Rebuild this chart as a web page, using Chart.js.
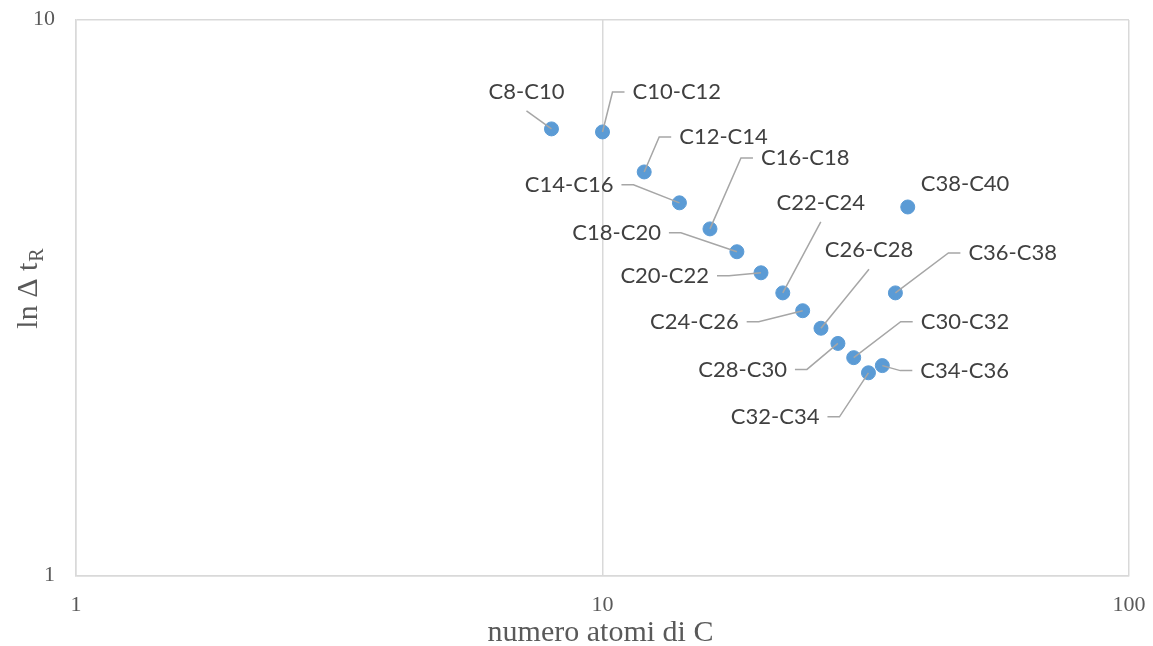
<!DOCTYPE html>
<html>
<head>
<meta charset="utf-8">
<script src="https://cdn.jsdelivr.net/npm/chart.js@4/dist/chart.umd.min.js"></script>
<style>
  body { margin: 0; background: #fff; }
  #wrap { width: 1153px; height: 646px; }
</style>
</head>
<body>
<div id="wrap"><canvas id="scatter-chart"></canvas></div>
<script>
// data
const pairLabels = ['C8-C10', 'C10-C12', 'C12-C14', 'C14-C16', 'C16-C18', 'C18-C20', 'C20-C22', 'C22-C24',
                    'C24-C26', 'C26-C28', 'C28-C30', 'C30-C32', 'C32-C34', 'C34-C36', 'C36-C38', 'C38-C40'];
const atomCounts = [8, 10, 12, 14, 16, 18, 20, 22, 24, 26, 28, 30, 32, 34, 36, 38];
const lnDeltaT = [6.37, 6.29, 5.33, 4.69, 4.21, 3.83, 3.51, 3.23, 3.00, 2.79, 2.62, 2.47, 2.32, 2.39, 3.23, 4.61];
const xTicks = [1, 10, 100];
const yTicks = [1, 10];

// where each label sits relative to its point: [dx, dy, side]
const labelPlace = [
    [-25, -37, 'above'], [30, -40, 'right'], [35, -35, 'right'], [-66, -18, 'left'],
    [51, -71, 'right'], [-76, -19, 'left'], [-52, 3, 'left'], [38, -90, 'above'],
    [-64, 11, 'left'], [48, -78, 'above'], [-51, 26, 'left'], [67, -36, 'right'],
    [-49, 44, 'left'], [38, 5, 'right'], [73, -40, 'right'], [13, -23, 'none']
];

const serif = '"Liberation Serif", "Times New Roman", serif';
const gridColor = '#d9d9d9';

const labelPlugin = {
    id: 'pointLabels',
    afterDatasetsDraw(chart) {
        const ctx = chart.ctx;
        const pts = chart.getDatasetMeta(0).data;
        ctx.save();
        ctx.font = '22px Lato, "Noto Sans", sans-serif';
        ctx.fillStyle = '#404040';
        ctx.strokeStyle = '#a6a6a6';
        ctx.lineWidth = 1.5;
        ctx.textBaseline = 'middle';
        pts.forEach((p, i) => {
            const [dx, dy, side] = labelPlace[i];
            const tx = p.x + dx, ty = p.y + dy;
            ctx.beginPath();
            if (side === 'above') {
                ctx.moveTo(tx, ty + 19);
                ctx.lineTo(p.x, p.y);
                ctx.textAlign = 'center';
            } else if (side === 'right') {
                ctx.moveTo(tx - 8, ty);
                ctx.lineTo(tx - 20, ty);
                ctx.lineTo(p.x, p.y);
                ctx.textAlign = 'left';
            } else if (side === 'left') {
                ctx.moveTo(tx + 8, ty);
                ctx.lineTo(tx + 20, ty);
                ctx.lineTo(p.x, p.y);
                ctx.textAlign = 'right';
            } else {
                ctx.textAlign = 'left';
            }
            if (side !== 'none') ctx.stroke();
            ctx.fillText(pairLabels[i], tx, ty);
        });
        ctx.restore();
    },
    afterDraw(chart) {
        const ctx = chart.ctx;
        const area = chart.chartArea;
        const xs = chart.scales.x, ys = chart.scales.y;
        ctx.save();
        ctx.fillStyle = '#595959';
        // tick labels
        ctx.font = '22px ' + serif;
        ctx.textBaseline = 'middle';
        ctx.textAlign = 'center';
        xTicks.forEach(v => ctx.fillText(String(v), xs.getPixelForValue(v), area.bottom + 29));
        ctx.textAlign = 'right';
        yTicks.forEach(v => ctx.fillText(String(v), area.left - 21, ys.getPixelForValue(v) - 1));
        // x title
        ctx.font = '30px ' + serif;
        ctx.textAlign = 'center';
        ctx.textBaseline = 'alphabetic';
        ctx.fillText('numero atomi di C', (area.left + area.right) / 2 - 2, area.bottom + 65);
        // y title with subscript R
        const main = 'ln \u0394 t';
        const wMain = ctx.measureText(main).width;
        ctx.font = '20px ' + serif;
        const wSub = ctx.measureText('R').width;
        ctx.translate(37, (area.top + area.bottom) / 2 - 9);
        ctx.rotate(-Math.PI / 2);
        ctx.textAlign = 'left';
        const start = -(wMain + wSub) / 2;
        ctx.font = '30px ' + serif;
        ctx.fillText(main, start, 0);
        ctx.font = '20px ' + serif;
        ctx.fillText('R', start + wMain + 1, 6);
        ctx.restore();
    }
};

new Chart(document.querySelector('#scatter-chart').getContext('2d'), {
    type: 'scatter',
    data: {
        datasets: [{
            data: atomCounts.map((n, i) => ({ x: n, y: lnDeltaT[i] })),
            backgroundColor: '#5b9bd5',
            borderColor: '#5b9bd5',
            borderWidth: 1,
            pointRadius: 7,
            pointHoverRadius: 7
        }]
    },
    options: {
        responsive: true,
        maintainAspectRatio: false,
        animation: false,
        layout: { padding: { top: 20, right: 24, left: 0, bottom: 0 } },
        plugins: { legend: { display: false }, tooltip: { enabled: false } },
        scales: {
            x: {
                type: 'logarithmic',
                min: 1,
                max: 100,
                afterBuildTicks: s => { s.ticks = xTicks.map(v => ({ value: v })); },
                afterFit: s => { s.height = 70; },
                ticks: { display: false },
                grid: { color: gridColor, lineWidth: 1.5, drawTicks: false },
                border: { color: gridColor, width: 1.5 }
            },
            y: {
                type: 'logarithmic',
                min: 1,
                max: 10,
                afterBuildTicks: s => { s.ticks = yTicks.map(v => ({ value: v })); },
                afterFit: s => { s.width = 76; },
                ticks: { display: false },
                grid: { color: gridColor, lineWidth: 1.5, drawTicks: false },
                border: { color: gridColor, width: 1.5 }
            }
        }
    },
    plugins: [labelPlugin]
});
</script>
</body>
</html>
